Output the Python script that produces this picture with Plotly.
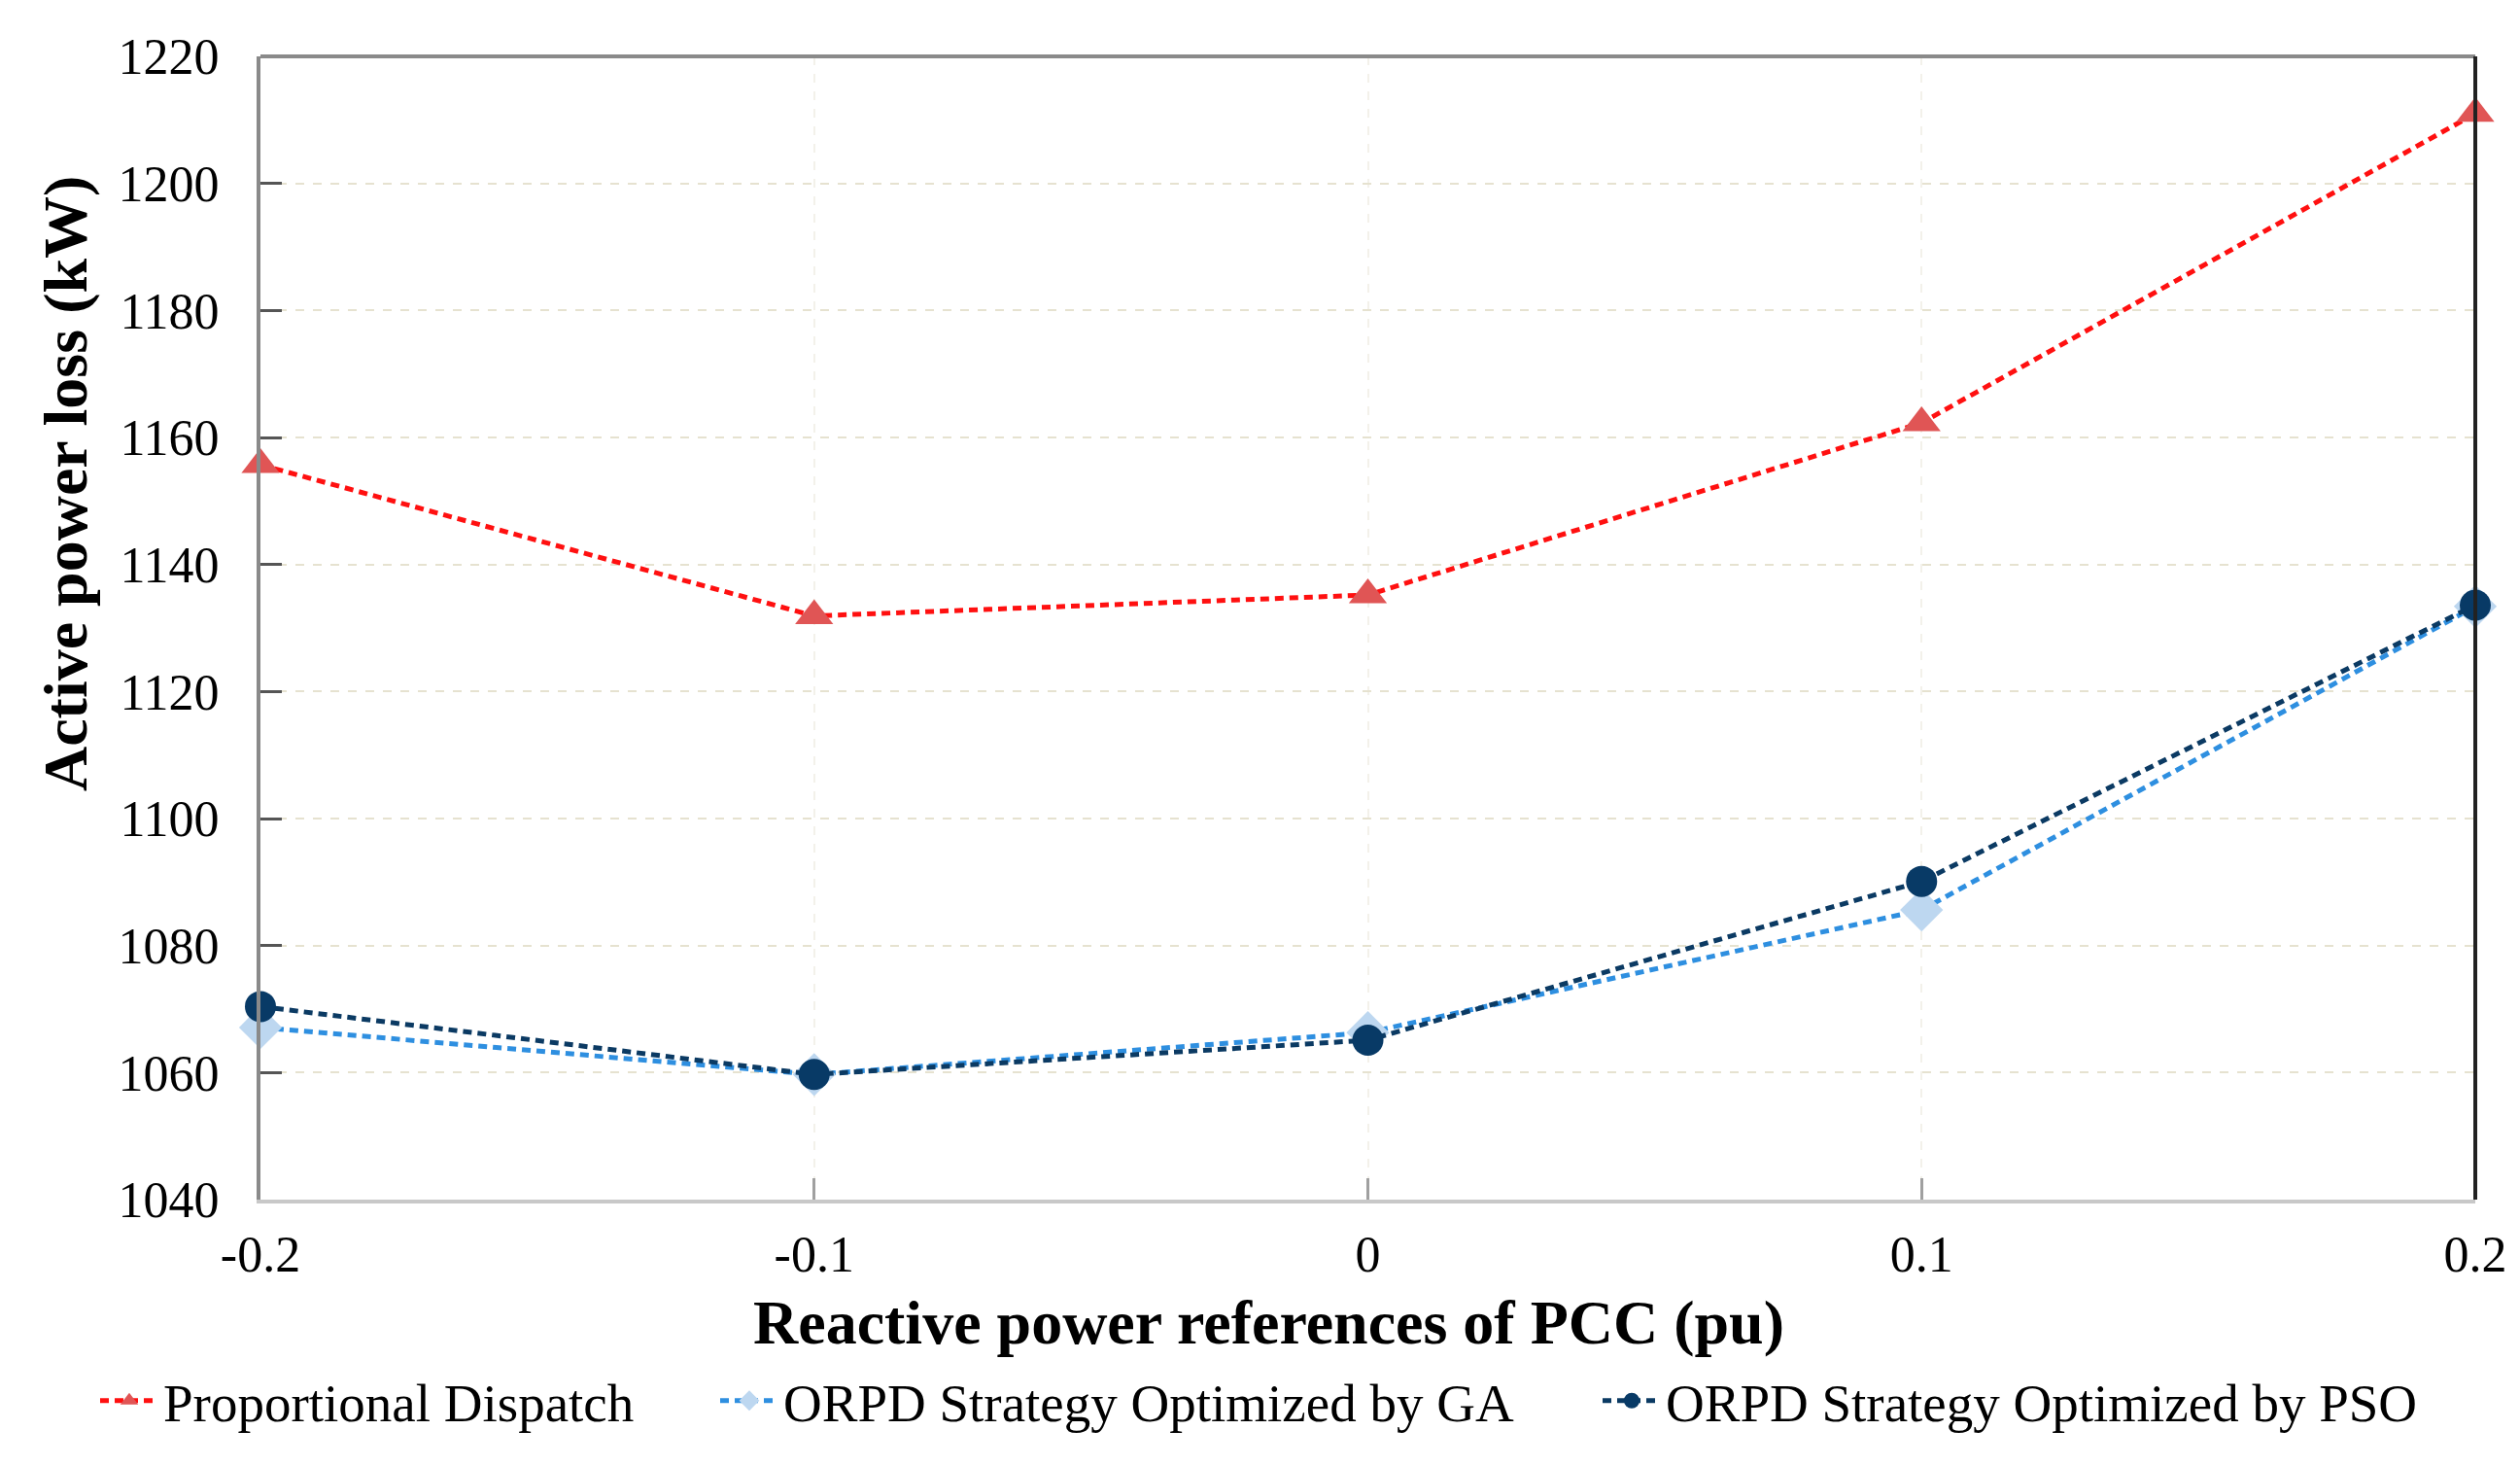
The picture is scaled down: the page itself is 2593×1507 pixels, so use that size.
import plotly.graph_objects as go

x_vals = [-0.2, -0.1, 0.0, 0.1, 0.2]
proportional = [1155.7, 1131.9, 1135.2, 1162.3, 1211.0]
ga = [1067.1, 1059.7, 1066.3, 1085.6, 1133.4]
pso = [1070.4, 1059.7, 1065.1, 1090.1, 1133.6]

x_ticks = [-0.2, -0.1, 0.0, 0.1, 0.2]
x_tick_labels = ["-0.2", "-0.1", "0", "0.1", "0.2"]
y_ticks = [1040, 1060, 1080, 1100, 1120, 1140, 1160, 1180, 1200, 1220]

W, H = 2593, 1507
L, R, T, B = 260, 54, 50, 281
pw, ph = W - L - R, H - T - B

FONT = "Liberation Serif"

fig = go.Figure()
fig.add_trace(go.Scatter(
    x=x_vals, y=proportional, mode="lines+markers", name="Proportional Dispatch",
    line=dict(color="#FF1010", width=5, dash="9px,6px"),
    marker=dict(symbol="triangle-up", size=34, color="#E05555"),
    cliponaxis=False, legend="legend"))
fig.add_trace(go.Scatter(
    x=x_vals, y=ga, mode="lines+markers", name="ORPD Strategy Optimized by GA",
    line=dict(color="#2E8FE0", width=5, dash="9px,6px"),
    marker=dict(symbol="diamond", size=34, color="#BDD7F0"),
    cliponaxis=False, legend="legend2"))
fig.add_trace(go.Scatter(
    x=x_vals, y=pso, mode="lines+markers", name="ORPD Strategy Optimized by PSO",
    line=dict(color="#0B3A63", width=5, dash="9px,6px"),
    marker=dict(symbol="circle", size=32, color="#083A66"),
    cliponaxis=False, legend="legend3"))

leg_y = (H - 1433) / H
def leg(xpx):
    return dict(orientation="h", x=xpx / W, xref="container", xanchor="left",
                y=leg_y, yref="container", yanchor="middle",
                font=dict(size=55, family=FONT, color="black"), itemwidth=60,
                bgcolor="rgba(0,0,0,0)", borderwidth=0)

fig.update_layout(
    width=W, height=H,
    margin=dict(l=L, r=R, t=T, b=B),
    paper_bgcolor="white", plot_bgcolor="white",
    font=dict(family=FONT, color="black", size=52),
    showlegend=True,
    legend=leg(90), legend2=leg(728), legend3=leg(1636),
    xaxis=dict(range=[-0.2, 0.2], tickmode="array", tickvals=x_ticks, ticktext=x_tick_labels,
               showgrid=True, gridcolor="#F3F1EA", griddash="dash", gridwidth=2,
               showline=True, linecolor="#C8C8C8", linewidth=4,
               ticks="inside", ticklen=22, tickcolor="#A0A0A0", tickwidth=3,
               ticklabelstandoff=8, zeroline=False,
               tickfont=dict(size=52, family=FONT, color="black")),
    yaxis=dict(range=[1040, 1220], tickmode="array", tickvals=y_ticks,
               showgrid=True, gridcolor="#E6E2D0", griddash="dash", gridwidth=2,
               showline=True, linecolor="#8A8A8A", linewidth=4,
               ticks="inside", ticklen=22, tickcolor="#555555", tickwidth=3,
               ticklabelstandoff=28, zeroline=False,
               tickfont=dict(size=52, family=FONT, color="black")),
)

# top and right frame lines
fig.add_shape(type="line", xref="paper", yref="paper", x0=0, x1=1, y0=1, y1=1,
              line=dict(color="#8A8A8A", width=4))
fig.add_shape(type="line", xref="paper", yref="paper", x0=1, x1=1, y0=0, y1=1,
              line=dict(color="#222222", width=4))

# axis titles
fig.add_annotation(text="<b>Active power loss (kW)</b>", xref="paper", yref="paper",
                   x=(60 - L) / pw, y=(H - B - 490) / ph, textangle=-90,
                   showarrow=False, xanchor="center", yanchor="middle",
                   font=dict(size=64, family=FONT, color="black"))
fig.add_annotation(text="<b>Reactive power references of PCC (pu)</b>", xref="paper", yref="paper",
                   x=(1297 - L) / pw, y=(H - B - 1352) / ph,
                   showarrow=False, xanchor="center", yanchor="middle",
                   font=dict(size=64, family=FONT, color="black"))

fig.write_html("out.html")
